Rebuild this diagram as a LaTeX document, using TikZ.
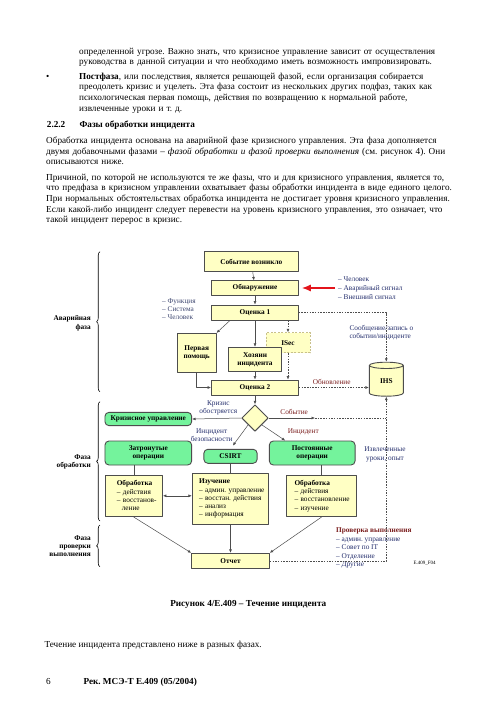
\documentclass[tikz,border=0pt]{standalone}
\usepackage{fontspec}
\setmainfont{Liberation Serif}
\usetikzlibrary{arrows.meta,calc,positioning,shapes.geometric,decorations.pathreplacing}
\definecolor{ituYellow}{HTML}{FFFFC4}
\definecolor{ituGreen}{HTML}{74F39C}
\definecolor{ituEdge}{HTML}{4D4D4D}
\definecolor{ituNavy}{HTML}{26306E}
\definecolor{ituSlate}{HTML}{414A73}
\definecolor{ituMaroon}{HTML}{7B1F1F}
\definecolor{ituRed}{HTML}{E3141B}
\definecolor{ituKhaki}{HTML}{C8C08A}
\newcommand\fullline[1]{\makebox[\linewidth][s]{#1}\par}
\newcommand\dashitem[1]{\mbox{– #1}}
\frenchspacing

\begin{document}
\begin{tikzpicture}[x=1pt,y=-1pt,>={Latex[length=3.4pt,width=2.8pt]},line join=round]
\path[fill=white] (0,0) rectangle (498,707);
\tikzset{body/.style={anchor=base west,inner sep=0pt,font=\fontsize{9.2}{10.6}\selectfont},para/.style={body,text width=#1,align=left},ybox/.style={draw=ituEdge,fill=ituYellow,line width=0.9pt,inner sep=1pt,align=center,font=\fontsize{7.3}{8.3}\selectfont\bfseries},gbox/.style={ybox,fill=ituGreen,rounded corners=4pt},lbox/.style={ybox,align=left,font=\fontsize{7.3}{8.3}\selectfont},tag/.style={inner sep=0pt,align=center,text=ituNavy,font=\fontsize{7.3}{8.3}\selectfont},phase/.style={inner sep=0pt,anchor=east,align=right,font=\fontsize{7.3}{8.3}\selectfont\bfseries},link/.style={draw=ituEdge,line width=0.5pt},arr/.style={link,->},dlink/.style={link,dash pattern=on 1.5pt off 1.2pt},brace/.style={draw,line width=0.6pt,decorate,decoration={brace,amplitude=3.5pt}}}
\node[para=374pt] (p1) at (79,54) {\fullline{определенной угрозе. Важно знать, что кризисное управление зависит от осуществления}руководства в данной ситуации и что необходимо иметь возможность импровизировать.};
\node[body] (bullet) at (46,79.2) {•};
\node[para=374pt] (p2) at (79,79.2) {\fullline{\textbf{Постфаза}, или последствия, является решающей фазой, если организация собирается}\fullline{преодолеть кризис и уцелеть. Эта фаза состоит из нескольких других подфаз, таких как}\fullline{психологическая первая помощь, действия по возвращению к нормальной работе,}извлеченные уроки и т.~д.};
\node[body,font=\fontsize{9.2}{10.6}\selectfont\bfseries] (secno) at (46.7,127.5) {2.2.2};
\node[body,font=\fontsize{9.2}{10.6}\selectfont\bfseries] (sectitle) at (79.3,127.5) {Фазы обработки инцидента};
\node[para=407pt] (p3) at (46,143.5) {\fullline{Обработка инцидента основана на аварийной фазе кризисного управления. Эта фаза дополняется}\fullline{двумя добавочными фазами – \textit{фазой обработки и фазой проверки выполнения} (см. рисунок~4). Они}описываются ниже.};
\node[para=407pt] (p4) at (46,180.2) {\fullline{Причиной, по которой не используются те же фазы, что и для кризисного управления, является то,}\fullline{что предфаза в кризисном управлении охватывает фазы обработки инцидента в виде единого целого.}\fullline{При нормальных обстоятельствах обработка инцидента не достигает уровня кризисного управления.}\fullline{Если какой-либо инцидент следует перевести на уровень кризисного управления, это означает, что}такой инцидент перерос в кризис.};
\node[ybox,minimum width=94pt,minimum height=20pt] (ev) at (251.3,261.7) {Событие возникло};
\node[ybox,minimum width=86.6pt,minimum height=14.3pt] (det) at (255,288) {Обнаружение};
\node[ybox,minimum width=86.6pt,minimum height=15pt] (ass1) at (255,312.5) {Оценка 1};
\node[ybox,minimum width=38.7pt,minimum height=39.3pt] (aid) at (196.7,353) {Первая\\помощь};
\node[ybox,minimum width=44pt,minimum height=20pt,draw=ituKhaki,dash pattern=on 2pt off 1.5pt] (isec) at (288,342.7) {ISec};
\node[ybox,minimum width=53.4pt,minimum height=24.4pt] (own) at (255,359.5) {Хозяин\\инцидента};
\node[ybox,minimum width=87pt,minimum height=15pt] (ass2) at (255,387.5) {Оценка 2};
\node[ybox,diamond,minimum width=26.6pt,minimum height=26.6pt,inner sep=0pt] (dia) at (255,418) {};
\node[gbox,minimum width=86.7pt,minimum height=13.3pt] (crisis) at (148.3,419) {Кризисное управление};
\node[gbox,minimum width=86.7pt,minimum height=24pt] (aff) at (148.3,453) {Затронутые\\операции};
\node[gbox,minimum width=53.3pt,minimum height=14pt] (csirt) at (230.5,456.3) {CSIRT};
\node[gbox,minimum width=85.7pt,minimum height=24pt] (perm) at (312.2,453) {Постоянные\\операции};
\node[lbox,text width=34pt,inner xsep=11.7pt,minimum height=41.7pt] (proc1) at (133.8,495.8) {\textbf{Обработка}\\\dashitem{действия}\\\dashitem{восстанов-}\\\hspace*{5pt}ление};
\node[lbox,text width=63pt,inner xsep=6.7pt,minimum height=50.7pt] (study) at (230.5,498.7) {\textbf{Изучение}\\\dashitem{админ. управление}\\\dashitem{восстан. действия}\\\dashitem{анализ}\\\dashitem{информация}};
\node[lbox,text width=54pt,inner xsep=7.6pt,minimum height=41.7pt] (proc2) at (321.5,495.8) {\textbf{Обработка}\\\dashitem{действия}\\\dashitem{восстановление}\\\dashitem{изучение}};
\node[ybox,minimum width=77.7pt,minimum height=15pt] (rep) at (230.5,560.8) {Отчет};
\node[ybox,cylinder,shape border rotate=90,aspect=0.5,minimum width=34pt,minimum height=34pt,inner sep=0pt] (ihs) at (386.3,381) {IHS};
\node[tag,text=ituSlate,align=left,anchor=west] (funcs) at (162,309) {– Функция\\– Система\\– Человек};
\node[tag,align=left,anchor=west,font=\fontsize{7.3}{9}\selectfont] (signals) at (338,288.3) {– Человек\\– Аварийный сигнал\\– Внешний сигнал};
\node[tag,align=left,anchor=west] (msg) at (349.3,332.8) {Сообщение/запись о\\событии/инциденте};
\node[tag,text=ituMaroon] (upd) at (331.7,381.7) {Обновление};
\node[tag] (esc) at (218.3,408.2) {Кризис\\обостряется};
\node[tag,text=ituMaroon] (evlbl) at (294.2,411.7) {Событие};
\node[tag] (seclbl) at (211.7,434.8) {Инцидент\\безопасности};
\node[tag,text=ituMaroon] (inclbl) at (303.3,432.3) {Инцидент};
\node[tag] (lessons) at (385,454.5) {Извлеченные\\уроки, опыт};
\node[tag,align=left,anchor=west,font=\fontsize{7.3}{8.4}\selectfont] (review) at (336,548) {\textcolor{ituMaroon}{\textbf{Проверка выполнения}}\\– админ. управление\\– Совет по IT\\– Отделение\\– Другие};
\node[inner sep=0pt,anchor=west,font=\fontsize{5}{6}\selectfont] (figid) at (413.3,563.3) {E.409\_F04};
\node[phase] (ph1) at (91,323.2) {Аварийная\\фаза};
\node[phase] (ph2) at (91,461.8) {Фаза\\обработки};
\node[phase] (ph3) at (91,546) {Фаза\\проверки\\выполнения};
\draw[brace] (100,391.7) -- (100,251.7);
\draw[brace] (100,521) -- (100,401.7);
\draw[brace] (100,566.7) -- (100,525);
\coordinate (sig) at (335,288);
\coordinate (evt) at (315,418);
\coordinate (jn) at (ihs.270 |- evt);
\draw[arr] (ev) -- (det);
\draw[arr] (det) -- (ass1);
\draw[arr] ([xshift=-25pt]ass1.south) -- (aid.north east);
\draw[arr] (ass1) -- (own);
\draw[arr,dlink] (ass1.south -| isec) -- (isec);
\draw[arr] (own) -- (ass2);
\draw[arr,dlink] (isec) -- (ass2.north -| isec);
\draw[arr] (aid) |- (ass2);
\draw[-{Latex[length=9pt,width=7pt]},ituRed,line width=1.4pt,shorten >=3pt] (sig) -- (det.east);
\draw[arr,dlink] (ass1.east) -| (ihs.90);
\draw[arr,dlink] (ass2.east) -- (ass2.east -| ihs.180);
\draw[arr] (ass2) -- (dia);
\draw[arr] (dia.west) -- (crisis.east);
\draw[arr,shorten >=4pt] (dia.south west) -- (csirt.north);
\draw[arr] (dia.south east) -- ([xshift=-27pt]perm.north);
\draw[arr] (dia.east) -- (evt);
\draw[dlink] (evt) -- (jn);
\draw[link] (aff.south -| proc1) -- (proc1);
\draw[link] (csirt) -- (study);
\draw[link] (perm.south -| proc2) -- (proc2);
\draw[link,<->] (proc1.east) -- (proc1.east -| study.west);
\draw[arr] (proc1.south) -- (rep.north west);
\draw[arr] (study) -- (rep);
\draw[arr] (proc2.south) -- (rep.north east);
\draw[arr,dlink] (rep.east) -| (ihs.270);
\node[body,anchor=base,font=\fontsize{9.2}{10.6}\selectfont\bfseries] (caption) at (248.3,606.5) {Рисунок 4/E.409 – Течение инцидента};
\node[body] (p5) at (44.3,647.5) {Течение инцидента представлено ниже в разных фазах.};
\node[body] (pageno) at (46,684) {6};
\node[body,font=\fontsize{9.2}{10.6}\selectfont\bfseries] (footer) at (83.3,684) {Рек. МСЭ-Т E.409 (05/2004)};
\end{tikzpicture}
\end{document}
